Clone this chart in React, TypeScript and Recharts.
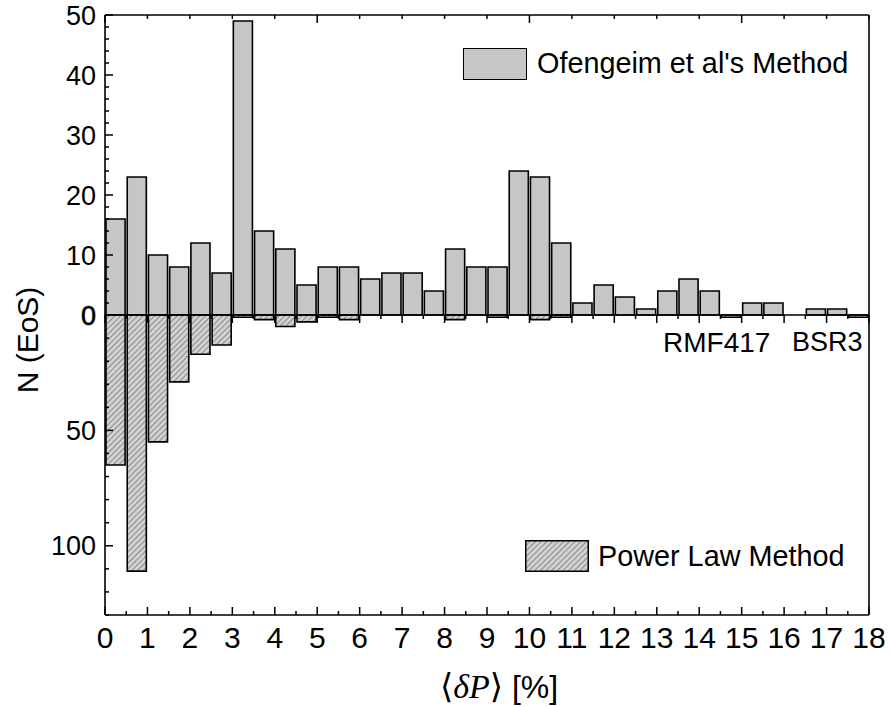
import React from 'react';
import { BarChart, Bar, XAxis, YAxis } from 'recharts';

// bin centres, bins are 0.5 % wide
const binCenters = [
  0.25, 0.75, 1.25, 1.75, 2.25, 2.75, 3.25, 3.75, 4.25, 4.75, 5.25, 5.75,
  6.25, 6.75, 7.25, 7.75, 8.25, 8.75, 9.25, 9.75, 10.25, 10.75, 11.25, 11.75,
  12.25, 12.75, 13.25, 13.75, 14.25, 14.75, 15.25, 15.75, 16.25, 16.75, 17.25, 17.75,
];
const ofengeimCounts = [
  16, 23, 10, 8, 12, 7, 49, 14, 11, 5, 8, 8,
  6, 7, 7, 4, 11, 8, 8, 24, 23, 12, 2, 5,
  3, 1, 4, 6, 4, 0, 2, 2, 0, 1, 1, 0,
];
const powerLawCounts = [
  65, 111, 55, 29, 17, 13, 1, 2, 5, 3, 1, 2,
  0, 0, 0, 0, 2, 0, 1, 0, 2, 1, 0, 0,
  0, 0, 0, 0, 0, 1, 0, 0, 0, 0, 0, 1,
];
const xTicks = [0, 1, 2, 3, 4, 5, 6, 7, 8, 9, 10, 11, 12, 13, 14, 15, 16, 17, 18];
const xHalfTicks = [
  0, 0.5, 1, 1.5, 2, 2.5, 3, 3.5, 4, 4.5, 5, 5.5, 6, 6.5, 7, 7.5, 8, 8.5, 9, 9.5,
  10, 10.5, 11, 11.5, 12, 12.5, 13, 13.5, 14, 14.5, 15, 15.5, 16, 16.5, 17, 17.5, 18,
];
const upperYTicks = [0, 2, 4, 6, 8, 10, 12, 14, 16, 18, 20, 22, 24, 26, 28, 30, 32, 34, 36, 38, 40, 42, 44, 46, 48, 50];
const lowerYTicks = [0, 10, 20, 30, 40, 50, 60, 70, 80, 90, 100, 110, 120, 130];

const data = binCenters.map((x, i) => ({ x, ofengeim: ofengeimCounts[i], powerLaw: powerLawCounts[i] }));

const INK = '#000';
const FONT = '"Liberation Sans", Arial, sans-serif';
const BAR_FILL = '#c6c6c6';
const PLOT_LEFT = 105;
const PLOT_RIGHT = 21;
const BAR_W = (890 - PLOT_LEFT - PLOT_RIGHT) / 36;

const TopTick = ({ x, y, payload }: any) => {
  const len = payload.value % 5 === 0 ? 8 : 4;
  return <line x1={x} x2={x} y1={y} y2={y + len} stroke={INK} strokeWidth={1.5} />;
};

const ZeroTick = ({ x, y, payload }: any) => {
  const len = Number.isInteger(payload.value) ? 8 : 4;
  return <line x1={x} x2={x} y1={y} y2={y + len} stroke={INK} strokeWidth={1.5} />;
};

const BottomTick = ({ x, y, payload }: any) => {
  const major = Number.isInteger(payload.value);
  return (
    <g>
      <line x1={x} x2={x} y1={y} y2={y - (major ? 8 : 4)} stroke={INK} strokeWidth={1.5} />
      {major && (
        <text x={x} y={y + 33} textAnchor="middle" fontSize={30} fontFamily={FONT} fill={INK}>
          {payload.value}
        </text>
      )}
    </g>
  );
};

// step: spacing of labelled ticks, skipZero: leave the shared 0 to the other half
const makeLeftTick = (step: number, skipZero: boolean) => ({ x, y, payload }: any) => {
  const major = payload.value % step === 0;
  const showLabel = major && !(skipZero && payload.value === 0);
  return (
    <g>
      <line x1={x} x2={x + (major ? 8 : 4)} y1={y} y2={y} stroke={INK} strokeWidth={1.5} />
      {showLabel && (
        <text
          x={x - 9}
          y={y}
          dy="0.36em"
          textAnchor="end"
          fontSize={27}
          fontFamily={FONT}
          fill={INK}
          stroke={payload.value === 0 ? INK : 'none'}
          strokeWidth={0.6}
        >
          {payload.value}
        </text>
      )}
    </g>
  );
};

const makeRightTick = (step: number) => ({ x, y, payload }: any) => {
  const major = payload.value % step === 0;
  return <line x1={x} x2={x - (major ? 8 : 4)} y1={y} y2={y} stroke={INK} strokeWidth={1.5} />;
};

const UpperLeftTick = makeLeftTick(10, true);
const UpperRightTick = makeRightTick(10);
const LowerLeftTick = makeLeftTick(50, false);
const LowerRightTick = makeRightTick(50);

const axisLine = { stroke: INK, strokeWidth: 1.6 };

const HatchSwatch = () => (
  <svg width={64} height={32} style={{ position: 'absolute', left: 525, top: 540 }}>
    <defs>
      <pattern id="hatchLegend" width={4} height={4} patternUnits="userSpaceOnUse" patternTransform="rotate(45)">
        <rect width={4} height={4} fill="#d2d2d2" />
        <line x1={0} y1={0} x2={0} y2={4} stroke="#333" strokeWidth={0.9} />
      </pattern>
    </defs>
    <rect x={0.75} y={0.75} width={62.5} height={30.5} fill="url(#hatchLegend)" stroke={INK} strokeWidth={1.5} />
  </svg>
);

const label: React.CSSProperties = {
  position: 'absolute',
  fontFamily: FONT,
  color: INK,
  whiteSpace: 'nowrap',
  lineHeight: 1,
};

export default function App() {
  return (
    <div style={{ position: 'absolute', left: 0, top: 0, width: 890, height: 707, background: '#fff' }}>
      {/* upper half: Ofengeim et al */}
      <div style={{ position: 'absolute', left: 0, top: 0 }}>
        <BarChart width={890} height={316} data={data} margin={{ top: 14, right: PLOT_RIGHT - 1, bottom: 1, left: PLOT_LEFT - 60 }}>
          <XAxis
            xAxisId="t"
            dataKey="x"
            type="number"
            orientation="top"
            domain={[0, 18]}
            ticks={xTicks}
            interval={0}
            height={1}
            tickSize={0}
            tickMargin={0}
            axisLine={axisLine}
            tickLine={false}
            tick={<TopTick />}
          />
          <YAxis
            yAxisId="l"
            type="number"
            domain={[0, 50]}
            ticks={upperYTicks}
            interval={0}
            width={60}
            tickSize={0}
            tickMargin={0}
            axisLine={axisLine}
            tickLine={false}
            tick={<UpperLeftTick />}
          />
          <YAxis
            yAxisId="r"
            orientation="right"
            type="number"
            domain={[0, 50]}
            ticks={upperYTicks}
            interval={0}
            width={1}
            tickSize={0}
            tickMargin={0}
            axisLine={axisLine}
            tickLine={false}
            tick={<UpperRightTick />}
          />
          <Bar
            xAxisId="t"
            yAxisId="l"
            dataKey="ofengeim"
            barSize={BAR_W}
            fill={BAR_FILL}
            stroke={INK}
            strokeWidth={1.6}
            isAnimationActive={false}
          />
        </BarChart>
      </div>

      {/* lower half: power law, axis runs downwards */}
      <div style={{ position: 'absolute', left: 0, top: 300 }}>
        <BarChart width={890} height={407} data={data} margin={{ top: 14, right: PLOT_RIGHT - 1, bottom: 52, left: PLOT_LEFT - 60 }}>
          <defs>
            <pattern id="hatch" width={4} height={4} patternUnits="userSpaceOnUse" patternTransform="rotate(45)">
              <rect width={4} height={4} fill="#d2d2d2" />
              <line x1={0} y1={0} x2={0} y2={4} stroke="#333" strokeWidth={0.9} />
            </pattern>
          </defs>
          <XAxis
            dataKey="x"
            type="number"
            domain={[0, 18]}
            ticks={xHalfTicks}
            interval={0}
            height={40}
            tickSize={0}
            tickMargin={0}
            axisLine={axisLine}
            tickLine={false}
            tick={<BottomTick />}
          />
          <XAxis
            xAxisId="z"
            dataKey="x"
            type="number"
            orientation="top"
            domain={[0, 18]}
            ticks={xHalfTicks}
            interval={0}
            height={1}
            tickSize={0}
            tickMargin={0}
            axisLine={axisLine}
            tickLine={false}
            tick={<ZeroTick />}
          />
          <YAxis
            yAxisId="l"
            type="number"
            domain={[0, 130]}
            reversed
            ticks={lowerYTicks}
            interval={0}
            width={60}
            tickSize={0}
            tickMargin={0}
            axisLine={axisLine}
            tickLine={false}
            tick={<LowerLeftTick />}
          />
          <YAxis
            yAxisId="r"
            orientation="right"
            type="number"
            domain={[0, 130]}
            reversed
            ticks={lowerYTicks}
            interval={0}
            width={1}
            tickSize={0}
            tickMargin={0}
            axisLine={axisLine}
            tickLine={false}
            tick={<LowerRightTick />}
          />
          <Bar
            yAxisId="l"
            dataKey="powerLaw"
            barSize={BAR_W}
            fill="url(#hatch)"
            stroke={INK}
            strokeWidth={1.6}
            isAnimationActive={false}
          />
        </BarChart>
      </div>

      {/* legends */}
      <div style={{ position: 'absolute', left: 463, top: 48, width: 62, height: 30, background: BAR_FILL, border: `1.5px solid ${INK}` }} />
      <div style={{ ...label, left: 537, top: 49, fontSize: 28.8 }}>Ofengeim et al's Method</div>
      <HatchSwatch />
      <div style={{ ...label, left: 598, top: 542, fontSize: 28.8 }}>Power Law Method</div>

      {/* annotations */}
      <div style={{ ...label, left: 663, top: 329, fontSize: 28 }}>RMF417</div>
      <div style={{ ...label, left: 792, top: 329, fontSize: 27 }}>BSR3</div>

      {/* axis titles */}
      <div
        style={{
          ...label,
          left: 28,
          top: 340,
          fontSize: 30,
          transform: 'translate(-50%, -50%) rotate(-90deg)',
        }}
      >
        N (EoS)
      </div>
      <div style={{ ...label, left: 499, top: 687, transform: 'translate(-50%, -50%)', fontSize: 32 }}>
        <span style={{ fontFamily: '"Liberation Serif", "DejaVu Serif", serif', fontSize: 34 }}>
          ⟨<i>δP</i>⟩
        </span>{' '}
        [%]
      </div>
    </div>
  );
}
